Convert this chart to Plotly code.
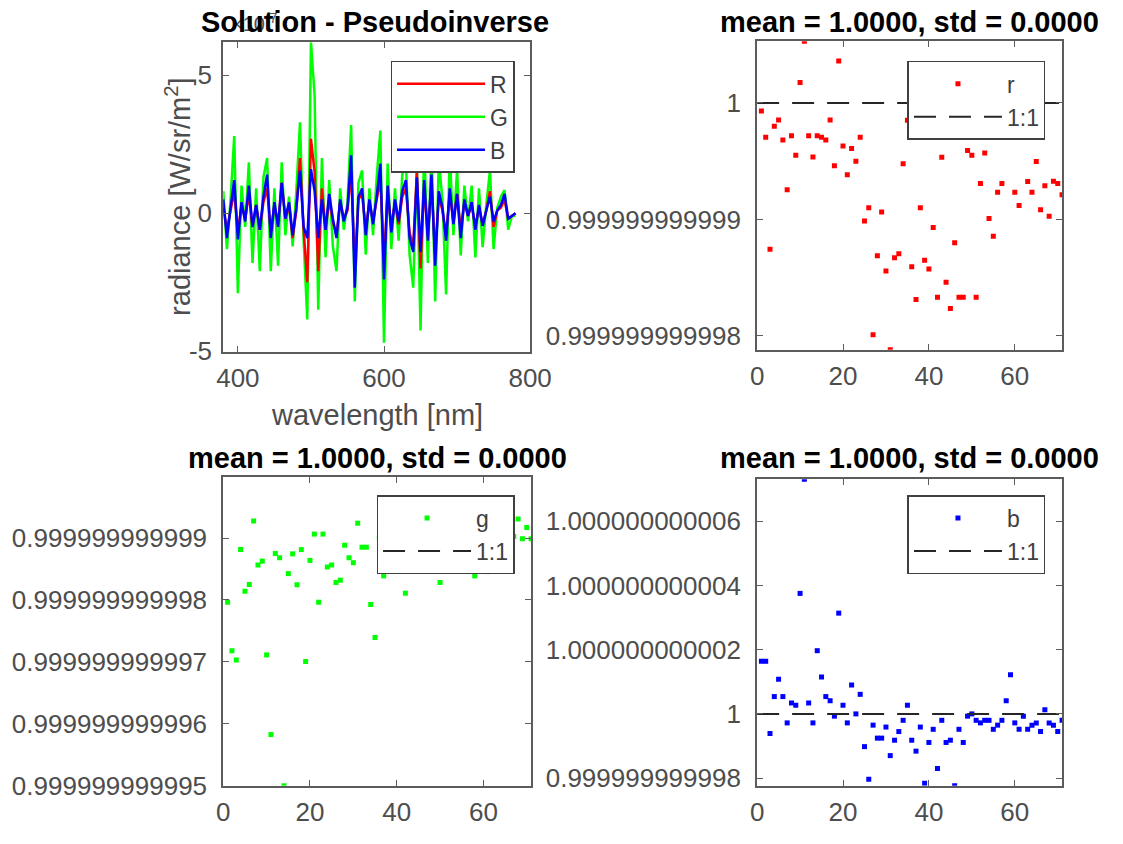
import numpy as np
import plotly.graph_objects as go

W, H = 1123, 844
FONT = "Liberation Sans, Arial, Helvetica, sans-serif"
TXT = "#4d4d4d"
AXC = "#5c5c5c"

# ---------------- data ----------------
wavelength_nm = list(range(380, 781, 5))  # 81 samples
radiance_exponent = -7                     # values below are x 10^-7

radiance_R = [0.2, -0.6, 0.1, 0.8, -0.7, 0.3, -0.2, 0.7, -0.5, 0.3,
              -0.6, 0.4, 0.9, -0.7, 0.3, -0.4, 1.1, -0.2, 0.3, -0.9,
              0.1, 2.0, -0.6, -2.5, 2.7, 1.5, -2.1, 0.9, -0.6, 0.5,
              -0.3, -0.8, 0.4, -0.2, 0.1, 1.5, -1.9, 0.5, 0.7, -0.6,
              0.4, -0.3, 0.5, 1.2, -1.7, 0.8, -0.5, 0.4, -0.4, 0.6,
              0.9, -0.7, -1.2, 1.5, -2.0, 1.0, -0.8, 1.1, -1.5, 0.6,
              0.1, -0.8, 0.7, -0.3, 0.7, -0.6, 0.4, -0.1, 0.3, -0.5,
              0.2, -0.4, 0.1, 0.8, -0.5, 0.1, 0.2, 0.5, -0.2, -0.1,
              0.0]
radiance_G = [0.8, -1.3, 0.5, 2.8, -2.9, 1.0, -0.5, 1.85, -1.8, 0.9,
              -2.1, 1.3, 2.0, -2.1, 0.9, -1.9, 1.85, -0.8, 0.6, -1.2,
              0.8, 3.3, -1.0, -3.85, 6.2, 4.3, -3.5, 2.0, -1.6, 1.2,
              -1.2, -2.1, 0.9, -0.6, 0.4, 3.2, -3.2, 1.1, 1.55, -1.5,
              0.9, -0.8, 1.3, 3.0, -4.7, 1.8, -1.3, 0.9, -1.0, 1.4,
              1.8, -1.5, -2.7, 1.8, -4.25, 2.6, -1.8, 2.5, -3.2, 1.9,
              0.5, -2.95, 2.2, -0.8, 1.6, -1.53, 1.0, -0.3, 1.0, -1.6,
              0.9, -1.23, 0.3, 1.55, -1.3, 0.2, 0.6, 0.84, -0.6, -0.1,
              -0.1]
radiance_B = [0.5, -0.9, 0.2, 1.2, -0.95, 0.4, -0.3, 1.0, -0.5, 0.3,
              -0.6, 0.6, 1.4, -0.9, 0.4, -0.5, 1.1, -0.2, 0.4, -0.8,
              0.2, 1.55, -0.5, -0.9, 1.6, 0.8, -0.9, 0.5, -0.6, 0.7,
              -0.2, -0.9, 0.5, -0.3, 0.2, 2.1, -2.7, 0.6, 0.9, -0.8,
              0.5, -0.4, 0.6, 1.8, -2.4, 1.0, -0.7, 0.5, -0.3, 0.8,
              1.2, -0.9, -1.4, 1.3, -1.4, 1.2, -1.0, 1.4, -1.9, 0.8,
              0.2, -1.0, 0.9, -0.4, 0.7, -0.9, 0.5, -0.1, 0.4, -0.6,
              0.3, -0.46, 0.1, 0.6, -0.3, 0.1, 0.3, 0.7, -0.2, -0.1,
              0.0]

# ratio values as deviation from 1, in units of 1e-12
r_dev_e12 = [-0.07, -0.295, -1.257, -0.20, -0.146, -0.318, -0.745, -0.281, -0.45, 0.174,
             0.529, -0.281, -0.464, -0.281, -0.295, -0.318, -0.146, -0.54, 0.36, -0.371,
             -0.616, -0.391, -0.50, -0.295, -1.013, -0.90, -1.989, -1.313, -0.936, -1.443,
             -2.118, -1.330, -1.294, -0.523, -0.15, -1.406, -1.688, -0.90, -1.35, -1.426,
             -1.069, -1.668, -0.467, -1.54, -1.764, -1.201, -1.668, -1.668, -0.408, -0.45,
             -1.668, -0.692, -0.430, -0.993, -1.145, -0.768, -0.692, -0.10, 0.05, -0.768,
             -0.880, -0.20, -0.675, -0.768, -0.504, -0.917, -0.712, -0.973, -0.672, -0.692,
             -0.788]
g_dev_e12 = [-2.036, -2.82, -2.97, -1.186, -1.86, -1.75, -0.723, -1.435, -1.372, -2.887,
             -4.173, -1.249, -1.318, -5.0, -1.574, -1.255, -1.754, -1.186, -2.993, -1.361,
             -0.936, -2.036, -0.936, -1.467, -1.435, -1.717, -1.68, -1.116, -1.318, -1.398,
             -0.76, -1.148, -1.148, -2.073, -2.605, -1.0, -1.611, -0.9, -1.2, -0.6,
             -1.1, -1.89, -0.8, -1.3, -0.5, -1.0, -1.44, -0.7, -1.2, -1.717,
             -0.9, -1.1, -0.6, -1.3, -0.8, -1.0, -1.505, -1.611, -1.2, -0.9,
             -1.542, -1.1, -0.7, -1.3, -1.0, -1.478, -0.973, -0.691, -1.01, -0.83,
             -1.01]
b_dev_e12 = [1.64, 1.64, -0.61, 0.54, 1.08, 0.54, -0.28, 0.34, 0.27, 3.755,
             7.31, 0.34, -0.28, 1.97, 1.15, 0.54, 0.41, -0.07, 3.14, 0.27,
             -0.28, 0.90, 0.0, 0.61, -1.02, -2.04, -0.35, -0.755, -0.755, -0.41,
             -1.30, -0.82, -0.55, -0.20, 0.27, -0.82, -1.16, -0.41, -2.16, -0.89,
             -0.48, -1.70, -0.20, -0.89, -0.82, -2.24, -0.48, -0.89, -0.07, 0.0,
             -0.20, -0.28, -0.20, -0.20, -0.48, -0.35, -0.20, 0.41, 1.22, -0.28,
             -0.48, -0.07, -0.48, -0.35, -0.28, -0.55, 0.13, -0.28, -0.35, -0.55,
             -0.20]

# ---------------- helpers ----------------
def fx(p):
    return p / W


def fy(p):
    return 1 - p / H


def ratio_label(v):
    s = "%.12f" % (1 + v * 1e-12)
    return s.rstrip("0").rstrip(".")


axis_common = dict(showline=True, linecolor=AXC, linewidth=2, mirror="ticks",
                   ticks="inside", ticklen=6, tickwidth=1.2, tickcolor=AXC,
                   showgrid=False, zeroline=False,
                   tickfont=dict(family=FONT, size=26, color=TXT))

fig = go.Figure()

# ---- top-left: radiance lines (drawn G, R, B; legend R, G, B) ----
for name, vals, col, rank in [("G", radiance_G, "#00ff00", 2),
                              ("R", radiance_R, "#ff0000", 1),
                              ("B", radiance_B, "#0000ff", 3)]:
    fig.add_trace(go.Scatter(x=wavelength_nm, y=vals, mode="lines", name=name,
                             line=dict(color=col, width=2.5), legendrank=rank,
                             xaxis="x", yaxis="y", legend="legend"))

# ---- scatter panels ----
panels = [("r", r_dev_e12, "#ff0000", "x2", "y2", "legend2"),
          ("g", g_dev_e12, "#00ff00", "x3", "y3", "legend3"),
          ("b", b_dev_e12, "#0000ff", "x4", "y4", "legend4")]
for name, dev, col, xa, ya, lg in panels:
    n = len(dev)
    idx = list(range(1, n + 1))
    fig.add_trace(go.Scatter(x=idx, y=dev, mode="markers", name=name,
                             marker=dict(symbol="square", size=5, color=col),
                             xaxis=xa, yaxis=ya, legend=lg))
    fig.add_trace(go.Scatter(x=[0, n], y=[0, 0], mode="lines", name="1:1",
                             line=dict(color="#262626", width=2, dash="22px,13px"),
                             xaxis=xa, yaxis=ya, legend=lg))

# ---------------- axes ----------------
fig.update_layout(
    xaxis=dict(domain=[fx(222), fx(537)], range=[380, 800], tickvals=[400, 600, 800],
               anchor="y", ticklabelstandoff=2, **axis_common),
    yaxis=dict(domain=[fy(358), fy(43)], range=[-5.02, 6.2], tickvals=[-5, 0, 5],
               ticktext=["-5", "0", "5"], anchor="x", ticklabelstandoff=4, **axis_common),
)

scatter_dom = {"2": ([fx(770), fx(1083)], [fy(356), fy(42)]),
               "3": ([fx(222), fx(538)], [fy(800), fy(486)]),
               "4": ([fx(770), fx(1083)], [fy(800), fy(488)])}
tick_sets = {"2": [-2, -1, 0], "3": [-5, -4, -3, -2, -1], "4": [-2, 0, 2, 4, 6]}
for (name, dev, col, xa, ya, lg) in panels:
    k = xa[1:]
    n = len(dev)
    lo = min(min(dev), 0.0)
    hi = max(max(dev), 0.0)
    if hi == 0.0:
        # the 1:1 line lies on the box edge (hidden by the box in the original)
        hi = -0.02
    xd, yd = scatter_dom[k]
    tv = tick_sets[k]
    fig.update_layout({
        "xaxis" + k: dict(domain=xd, range=[0, n], tickvals=[0, 20, 40, 60],
                          anchor="y" + k, ticklabelstandoff=2, **axis_common),
        "yaxis" + k: dict(domain=yd, range=[lo, hi], tickvals=tv,
                          ticktext=[ratio_label(v) for v in tv],
                          anchor="x" + k, ticklabelstandoff=9, **axis_common),
    })

# ---------------- legends ----------------
leg_common = dict(bgcolor="white", bordercolor="#404040", borderwidth=1.5,
                  font=dict(family=FONT, size=23, color="#404040"),
                  xanchor="right", yanchor="top", tracegroupgap=0, itemwidth=88)
fig.update_layout(
    legend=dict(x=fx(521), y=fy(62), traceorder="normal", **leg_common),
    legend2=dict(x=fx(1066), y=fy(62), **leg_common),
    legend3=dict(x=fx(521), y=fy(504), **leg_common),
    legend4=dict(x=fx(1066), y=fy(504), **leg_common),
)

# ---------------- text ----------------
def stats_title(dev):
    vals = 1 + np.array(dev) * 1e-12
    return "mean = %.4f, std = %.4f" % (vals.mean(), vals.std())


ann = [
    dict(text="×10<sup>%d</sup>" % radiance_exponent, x=fx(228), y=fy(38),
         xanchor="left", yanchor="bottom", font=dict(family=FONT, size=20, color=TXT)),
    dict(text="<b>Solution - Pseudoinverse</b>", x=fx(378), y=fy(22),
         xanchor="center", yanchor="middle", font=dict(family=FONT, size=29, color="black")),
    dict(text="<b>%s</b>" % stats_title(r_dev_e12), x=fx(926.5), y=fy(22),
         xanchor="center", yanchor="middle", font=dict(family=FONT, size=29, color="black")),
    dict(text="<b>%s</b>" % stats_title(g_dev_e12), x=fx(380), y=fy(466),
         xanchor="center", yanchor="middle", font=dict(family=FONT, size=29, color="black")),
    dict(text="<b>%s</b>" % stats_title(b_dev_e12), x=fx(926.5), y=fy(466),
         xanchor="center", yanchor="middle", font=dict(family=FONT, size=29, color="black")),
    dict(text="wavelength [nm]", x=fx(379.5), y=fy(423), xanchor="center", yanchor="middle",
         font=dict(family=FONT, size=29, color=TXT)),
    dict(text="radiance [W/sr/m<sup>2</sup>]", x=fx(176), y=fy(200), textangle=-90,
         xanchor="center", yanchor="middle", font=dict(family=FONT, size=29, color=TXT)),
]
for a in ann:
    a.update(xref="paper", yref="paper", showarrow=False)

fig.update_layout(width=W, height=H, margin=dict(l=0, r=0, t=0, b=0),
                  paper_bgcolor="white", plot_bgcolor="white",
                  font=dict(family=FONT, color=TXT), showlegend=True,
                  annotations=ann)

fig.write_html("out.html", config={"displayModeBar": False},
               post_script="document.body.style.margin='0px';"
                           "document.body.style.overflow='hidden';")
